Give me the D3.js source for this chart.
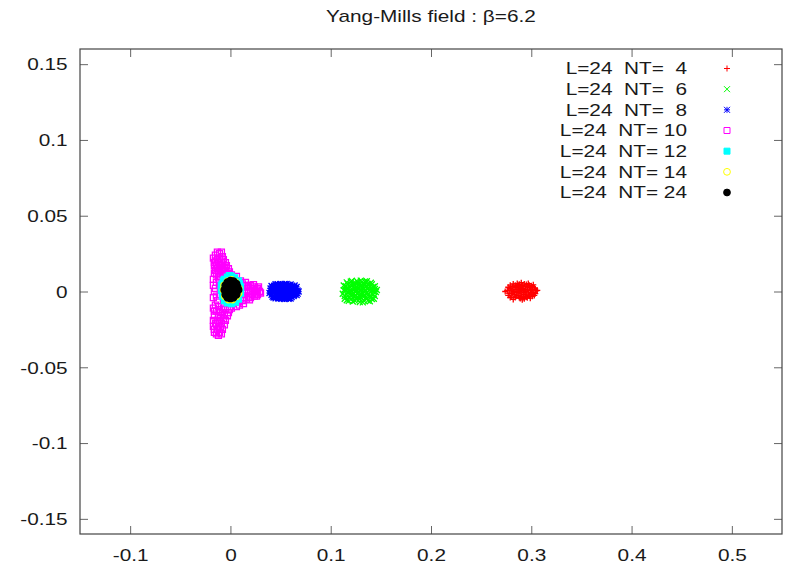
<!DOCTYPE html>
<html>
<head>
<meta charset="utf-8">
<script src="https://cdn.jsdelivr.net/npm/d3@7"></script>
<style>
  body { margin: 0; background: #fff; }
  text { font-family: "Liberation Sans", Arial, sans-serif; fill: #1a1a1a; }
</style>
</head>
<body>
<div id="chart"></div>
<script>
// series labels, colours and marker types (gnuplot point types 1..7)
const seriesLabels = ["L=24  NT=  4", "L=24  NT=  6", "L=24  NT=  8", "L=24  NT= 10", "L=24  NT= 12", "L=24  NT= 14", "L=24  NT= 24"];
const seriesColors = ["#ff0000", "#00ff00", "#0000ff", "#ff00ff", "#00ffff", "#ffff00", "#000000"];
const seriesMarkers = ["plus", "cross", "star", "square", "squareFilled", "circle", "circleFilled"];

const xTicks = [-0.1, 0, 0.1, 0.2, 0.3, 0.4, 0.5];
const xTickLabels = ["-0.1", "0", "0.1", "0.2", "0.3", "0.4", "0.5"];
const yTicks = [-0.15, -0.1, -0.05, 0, 0.05, 0.1, 0.15];
const yTickLabels = ["-0.15", "-0.1", "-0.05", "0", "0.05", "0.1", "0.15"];

// points: [Re, Im]
const nt4 = [[0.276,0.0005],[0.278,-0.0012],[0.279,0.0018],[0.280,-0.0030],[0.281,0.0032],[0.282,0.0002],[0.283,-0.0018],[0.284,0.0042],[0.284,-0.0040],[0.285,0.0015],[0.286,-0.0008],[0.287,0.0030],[0.287,-0.0028],[0.288,0.0048],[0.289,-0.0046],[0.289,0.0004],[0.290,0.0022],[0.290,-0.0016],[0.291,0.0040],[0.292,-0.0035],[0.292,0.0010],[0.293,-0.0005],[0.294,0.0032],[0.294,-0.0024],[0.295,0.0046],[0.296,-0.0042],[0.296,0.0016],[0.297,-0.0010],[0.298,0.0028],[0.298,-0.0030],[0.299,0.0006],[0.300,0.0038],[0.300,-0.0018],[0.301,0.0014],[0.302,-0.0006],[0.303,0.0024],[0.303,-0.0026],[0.305,0.0004],[0.286,0.0052],[0.291,-0.0055],[0.283,0.0000],[0.288,-0.0002],[0.295,0.0000],[0.280,0.0010],[0.297,0.0052],
  [0.277,-0.0025],[0.277,0.0028],[0.279,-0.0040],[0.279,0.0042],[0.281,-0.0010],[0.282,0.0050],[0.282,-0.0052],[0.284,0.0025],[0.285,-0.0030],[0.286,0.0038],[0.287,0.0012],[0.288,-0.0040],[0.288,0.0030],[0.290,0.0058],[0.290,-0.0035],[0.291,0.0018],[0.292,-0.0020],[0.293,0.0050],[0.293,-0.0048],[0.294,0.0012],[0.295,-0.0036],[0.296,0.0030],[0.297,-0.0022],[0.298,0.0042],[0.299,-0.0044],[0.299,0.0016],[0.300,-0.0008],[0.301,0.0030],[0.301,-0.0032],[0.302,0.0044],[0.304,-0.0014],[0.304,0.0016],[0.306,0.0008],[0.274,0.0000],[0.289,0.0015]];
const nt6 = [[0.113,0.0008],[0.114,-0.0030],[0.115,0.0035],[0.116,-0.0058],[0.116,0.0060],[0.117,-0.0005],[0.118,0.0020],[0.119,-0.0042],[0.120,0.0065],[0.120,0.0046],[0.121,-0.0018],[0.122,0.0012],[0.122,-0.0066],[0.123,0.0032],[0.124,-0.0035],[0.125,0.0055],[0.125,-0.0002],[0.126,0.0070],[0.126,-0.0052],[0.127,0.0024],[0.128,-0.0024],[0.128,0.0044],[0.129,-0.0070],[0.130,0.0010],[0.130,-0.0040],[0.131,0.0062],[0.132,-0.0012],[0.132,0.0030],[0.133,-0.0060],[0.134,0.0050],[0.134,-0.0028],[0.135,0.0004],[0.136,0.0068],[0.136,-0.0048],[0.137,0.0022],[0.138,-0.0016],[0.138,0.0042],[0.139,-0.0064],[0.140,0.0058],[0.140,-0.0036],[0.141,0.0008],[0.142,0.0030],[0.142,-0.0022],[0.143,-0.0048],[0.144,0.0016],[0.145,-0.0004],[0.119,0.0000],[0.124,0.0016],[0.133,0.0016],[0.127,-0.0010],
  [0.112,-0.0015],[0.113,0.0040],[0.114,-0.0048],[0.115,0.0010],[0.116,0.0020],[0.117,-0.0030],[0.117,0.0050],[0.118,-0.0062],[0.119,0.0030],[0.120,-0.0025],[0.121,0.0070],[0.121,0.0000],[0.122,-0.0040],[0.123,0.0050],[0.123,-0.0015],[0.124,-0.0060],[0.125,0.0030],[0.126,0.0010],[0.127,0.0060],[0.127,-0.0040],[0.128,0.0000],[0.129,0.0030],[0.129,-0.0050],[0.130,0.0072],[0.131,-0.0025],[0.131,0.0045],[0.132,-0.0072],[0.133,0.0000],[0.134,0.0066],[0.135,-0.0040],[0.135,0.0030],[0.136,-0.0010],[0.137,0.0050],[0.137,-0.0060],[0.138,0.0010],[0.139,0.0032],[0.139,-0.0030],[0.141,0.0048],[0.141,-0.0050],[0.143,0.0000],[0.144,-0.0030],[0.144,0.0035],[0.146,0.0010]];
const nt8 = [[0.040,0.0004],[0.041,-0.0022],[0.042,0.0026],[0.043,-0.0040],[0.044,0.0040],[0.044,-0.0006],[0.045,0.0014],[0.046,-0.0030],[0.047,0.0048],[0.047,0.0000],[0.048,-0.0046],[0.049,0.0028],[0.050,-0.0016],[0.050,0.0012],[0.051,0.0042],[0.052,-0.0036],[0.052,-0.0002],[0.053,0.0024],[0.054,-0.0050],[0.054,0.0050],[0.055,-0.0020],[0.056,0.0008],[0.057,0.0036],[0.057,-0.0034],[0.058,-0.0008],[0.059,0.0020],[0.060,0.0046],[0.060,-0.0046],[0.061,-0.0018],[0.062,0.0030],[0.062,0.0004],[0.063,-0.0030],[0.064,0.0040],[0.065,-0.0008],[0.065,0.0018],[0.066,-0.0024],[0.067,0.0006],[0.048,0.0014],[0.056,-0.0010],[0.059,0.0006],
  [0.039,-0.0010],[0.040,0.0020],[0.041,0.0036],[0.042,-0.0034],[0.043,0.0010],[0.045,-0.0045],[0.045,0.0048],[0.046,0.0024],[0.046,-0.0012],[0.048,0.0040],[0.048,-0.0030],[0.049,-0.0006],[0.050,0.0050],[0.051,-0.0048],[0.051,0.0026],[0.052,0.0010],[0.053,-0.0024],[0.053,0.0040],[0.055,0.0030],[0.055,-0.0040],[0.056,0.0050],[0.057,0.0014],[0.058,-0.0048],[0.058,0.0042],[0.059,-0.0026],[0.060,0.0010],[0.061,0.0034],[0.061,-0.0036],[0.062,-0.0010],[0.063,0.0020],[0.064,-0.0018],[0.064,0.0010],[0.066,0.0030],[0.067,-0.0014],[0.068,0.0000]];
const nt10 = [[-0.015,0.024],[-0.011,0.025],[-0.008,0.023],[-0.013,0.021],[-0.016,0.019],[-0.009,0.020],[-0.005,0.019],[-0.014,0.017],[-0.011,0.016],[-0.006,0.016],[-0.002,0.015],[-0.015,0.014],[-0.012,0.013],[-0.008,0.013],[-0.003,0.012],[0.001,0.011],[-0.014,0.011],[-0.010,0.010],[-0.006,0.009],[0.003,0.008],
  [-0.013,0.026],[-0.009,0.026],[-0.017,0.022],[-0.011,0.022],[-0.007,0.021],[-0.015,0.020],[-0.012,0.019],[-0.008,0.018],[-0.016,0.017],[-0.004,0.017],[-0.013,0.015],[-0.009,0.015],[-0.005,0.014],[-0.016,0.012],[-0.010,0.012],[-0.001,0.013],[-0.007,0.011],[-0.012,0.009],[-0.002,0.009],[0.002,0.006],[-0.017,0.008],
  [-0.014,-0.028],[-0.011,-0.027],[-0.016,-0.025],[-0.008,-0.025],[-0.012,-0.023],[-0.015,-0.021],[-0.009,-0.021],[-0.005,-0.019],[-0.013,-0.019],[-0.016,-0.016],[-0.010,-0.017],[-0.006,-0.015],[-0.002,-0.014],[-0.014,-0.013],[-0.011,-0.012],[-0.007,-0.011],[-0.003,-0.010],[0.001,-0.011],[-0.015,-0.009],[0.003,-0.008],
  [-0.012,-0.029],[-0.016,-0.027],[-0.009,-0.028],[-0.013,-0.025],[-0.010,-0.024],[-0.017,-0.023],[-0.006,-0.022],[-0.014,-0.022],[-0.011,-0.020],[-0.017,-0.019],[-0.007,-0.018],[-0.012,-0.016],[-0.003,-0.016],[-0.008,-0.014],[-0.016,-0.013],[-0.010,-0.014],[-0.005,-0.012],[-0.001,-0.012],[-0.012,-0.010],[-0.017,-0.011],[0.002,-0.006],
  [0.008,0.006],[0.012,0.005],[0.016,0.004],[0.020,0.004],[0.024,0.003],[0.027,0.002],[0.029,0.000],[0.027,-0.002],[0.024,-0.003],[0.020,-0.004],[0.016,-0.005],[0.012,-0.006],[0.008,-0.007],[0.018,0.000],[0.022,0.001],[0.014,-0.001],[0.025,-0.001],[0.010,0.001],
  [0.010,0.004],[0.014,0.003],[0.018,0.003],[0.022,0.002],[0.026,0.001],[0.030,-0.001],[0.028,0.003],[0.026,-0.003],[0.022,-0.002],[0.018,-0.003],[0.014,-0.004],[0.010,-0.004],[0.012,0.000],[0.016,0.001],[0.020,-0.001],[0.023,0.0045],[0.019,-0.0055],[0.015,0.006],[0.010,0.007],[0.009,-0.009],[0.013,-0.008],
  [-0.014,0.006],[-0.015,0.002],[-0.014,-0.003],[-0.013,-0.006],[-0.010,0.004],[-0.010,-0.002],[0.006,0.010],[0.006,-0.010],[-0.004,0.006],[0.004,0.002],[-0.017,0.004],[-0.017,-0.004],[-0.016,0.000]];
const nt12 = [[-0.009,0.001],[-0.008,0.005],[-0.008,-0.003],[-0.006,0.008],[-0.006,-0.006],[-0.003,0.0095],[-0.003,-0.0075],[0.001,0.010],[0.001,-0.008],[0.004,0.009],[0.005,-0.007],[0.008,0.007],[0.008,-0.005],[0.010,0.003],[0.010,-0.001],[-0.004,0.002],[0.003,-0.002],[0.005,0.004],[-0.002,-0.003],[0.000,0.004],[-0.009,0.004],[-0.007,0.007],[0.009,0.005],[-0.001,0.0105]];
const nt14 = [[-0.0068,0.001],[-0.0062,0.004],[-0.0055,-0.003],[-0.003,0.0066],[-0.002,-0.0052],[0.001,0.0076],[0.002,-0.0052],[0.005,0.006],[0.006,-0.003],[0.0082,0.002],[0.008,-0.001],[0.000,0.000]];
const nt24 = [[-0.006,0.001],[-0.005,0.004],[-0.005,-0.002],[-0.003,0.006],[-0.003,-0.004],[0.000,0.007],[0.000,-0.0045],[0.003,0.0068],[0.003,-0.004],[0.006,0.005],[0.006,-0.002],[0.008,0.001],[0.007,0.003],[-0.002,0.001],[0.002,0.002],[0.004,0.000],[0.001,-0.002],[-0.001,0.004],[0.004,0.004],[-0.003,0.002]];

const seriesData = [nt4, nt6, nt8, nt10, nt12, nt14, nt24];

const width = 785, height = 567;
const margin = {top: 49, right: 3, bottom: 33, left: 80};
const textScale = "scale(1.3,1)";   // the plot's font is drawn wide

const svg = d3.select("#chart").append("svg")
    .attr("width", width)
    .attr("height", height);

const x = d3.scaleLinear().domain([-0.15, 0.55]).range([margin.left, width - margin.right]);
const y = d3.scaleLinear().domain([-0.16, 0.16]).range([height - margin.bottom, margin.top]);

// marker paths, centred on 0,0
function markerPath(type) {
    const s = 3;
    switch (type) {
        case "plus": return `M${-s},0H${s}M0,${-s}V${s}`;
        case "cross": return `M${-s},${-s}L${s},${s}M${-s},${s}L${s},${-s}`;
        case "star": return `M${-s},0H${s}M0,${-s}V${s}M${-s},${-s}L${s},${s}M${-s},${s}L${s},${-s}`;
        case "square":
        case "squareFilled": return `M${-s},${-s}H${s}V${s}H${-s}Z`;
        default: return d3.arc()({innerRadius: 0, outerRadius: s + 0.4, startAngle: 0, endAngle: 2 * Math.PI});
    }
}
function isFilled(type) { return type === "squareFilled" || type === "circleFilled"; }

// points
const plot = svg.append("g").attr("class", "points");
seriesData.forEach((data, i) => {
    const type = seriesMarkers[i];
    plot.append("g")
        .selectAll("path")
        .data(data)
        .enter().append("path")
        .attr("d", markerPath(type))
        .attr("transform", d => `translate(${x(d[0])},${y(d[1])})`)
        .attr("fill", isFilled(type) ? seriesColors[i] : "none")
        .attr("stroke", seriesColors[i])
        .attr("stroke-width", 1.3);
});

// axes with inward ticks on all four sides
const tickLen = 8;
const axisStyle = g => {
    g.select(".domain").remove();
    g.selectAll(".tick line").attr("stroke", "#666");
    g.selectAll("text").attr("fill", "#1a1a1a")
        .style("font-family", "'Liberation Sans', Arial, sans-serif")
        .style("font-size", "16px");
};

svg.append("g")
    .attr("transform", `translate(0,${height - margin.bottom})`)
    .call(d3.axisBottom(x).tickValues(xTicks).tickSize(-tickLen).tickPadding(10)
        .tickFormat((d, i) => xTickLabels[i]))
    .call(axisStyle)
    .selectAll("text").attr("dy", "1.05em").attr("transform", textScale);

svg.append("g")
    .attr("transform", `translate(0,${margin.top})`)
    .call(d3.axisTop(x).tickValues(xTicks).tickSize(-tickLen).tickFormat(""))
    .call(axisStyle);

svg.append("g")
    .attr("transform", `translate(${margin.left},0)`)
    .call(d3.axisLeft(y).tickValues(yTicks).tickSize(-tickLen).tickPadding(9.5)
        .tickFormat((d, i) => yTickLabels[i]))
    .call(axisStyle)
    .selectAll("text").attr("dy", "0.36em").attr("transform", textScale);

svg.append("g")
    .attr("transform", `translate(${width - margin.right},0)`)
    .call(d3.axisRight(y).tickValues(yTicks).tickSize(-tickLen).tickFormat(""))
    .call(axisStyle);

// frame
svg.append("rect")
    .attr("x", margin.left)
    .attr("y", margin.top)
    .attr("width", width - margin.left - margin.right)
    .attr("height", height - margin.top - margin.bottom)
    .attr("fill", "none")
    .attr("stroke", "#444")
    .attr("stroke-width", 1.2);

// title
svg.append("g")
    .attr("transform", `translate(${(margin.left + width - margin.right) / 2},22)`)
  .append("text")
    .attr("text-anchor", "middle")
    .attr("transform", textScale)
    .style("font-size", "16px")
    .text("Yang-Mills field : β=6.2");

// legend
const legend = svg.append("g").attr("class", "legend");
const legendRow = d3.scaleLinear().domain([0, 6]).range([68.5, 192.5]);
seriesLabels.forEach((label, i) => {
    const yy = legendRow(i);
    legend.append("g")
        .attr("transform", `translate(687,${yy})`)
      .append("text")
        .attr("dy", "0.36em")
        .attr("text-anchor", "end")
        .attr("transform", textScale)
        .style("font-size", "16px")
        .style("white-space", "pre")
        .text(label);
    legend.append("path")
        .attr("d", markerPath(seriesMarkers[i]))
        .attr("transform", `translate(727,${yy})`)
        .attr("fill", isFilled(seriesMarkers[i]) ? seriesColors[i] : "none")
        .attr("stroke", seriesColors[i])
        .attr("stroke-width", 1);
});
</script>
</body>
</html>
